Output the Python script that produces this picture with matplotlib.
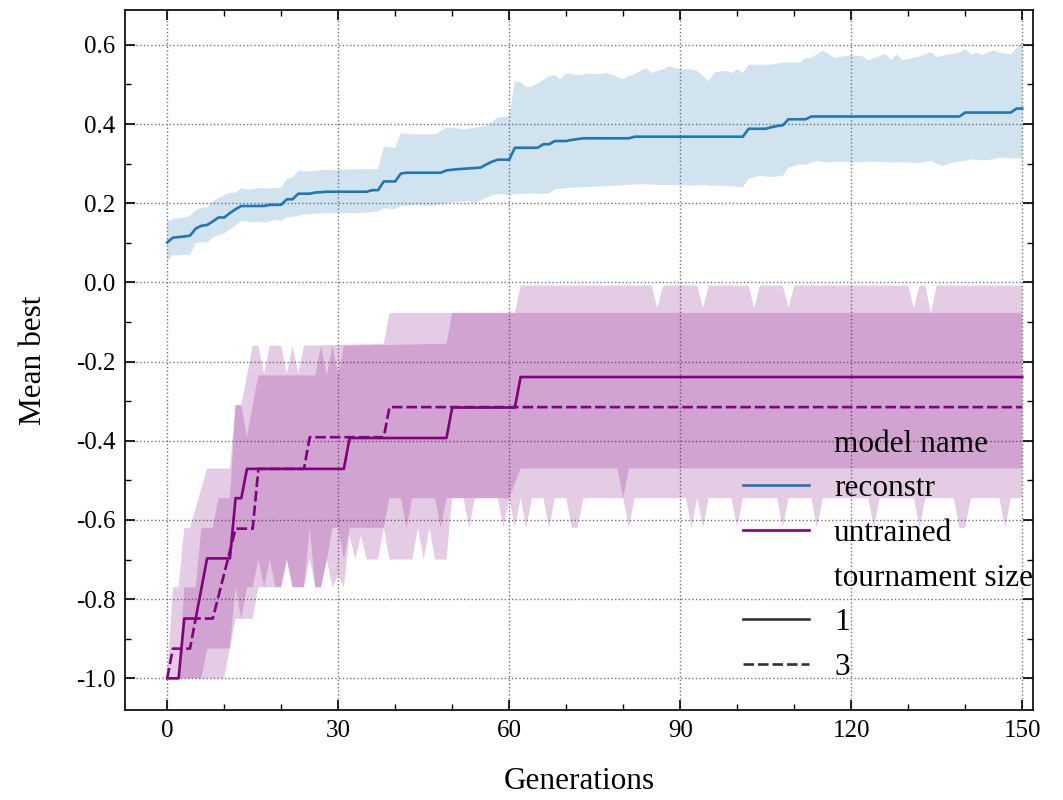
import numpy as np
import matplotlib
matplotlib.use('Agg')
import matplotlib.pyplot as plt
from matplotlib.lines import Line2D
from matplotlib.ticker import MultipleLocator

plt.rcParams['font.family'] = 'serif'
plt.rcParams['font.serif'] = ['Liberation Serif', 'DejaVu Serif']
plt.rcParams['axes.unicode_minus'] = False

'''
Data read off the figure (vertices of the mean curves and of the CI bands)
'''
# reconstr, tournament size 1
recon_x = [0, 1, 3, 4, 5, 6, 7, 8, 9, 10, 11, 12, 13, 17, 18, 20, 21, 22, 23, 25, 26, 28, 35, 36, 37, 38,
           40, 41, 42, 48, 49, 51, 53, 55, 56, 57, 58, 60, 61, 65, 66, 67, 68, 70, 71, 72, 73, 81, 82,
           101, 102, 105, 106, 107, 108, 109, 112, 113, 139, 140, 148, 149, 150]
recon_y = [0.101, 0.113, 0.116, 0.118, 0.136, 0.143, 0.145, 0.154, 0.164, 0.164, 0.175, 0.185, 0.193,
           0.193, 0.196, 0.196, 0.21, 0.21, 0.224, 0.224, 0.227, 0.229, 0.229, 0.233, 0.233, 0.255,
           0.255, 0.275, 0.277, 0.277, 0.283, 0.286, 0.288, 0.29, 0.298, 0.305, 0.31, 0.31, 0.34,
           0.34, 0.349, 0.349, 0.357, 0.357, 0.36, 0.362, 0.364, 0.364, 0.368, 0.368, 0.388, 0.388,
           0.392, 0.395, 0.397, 0.412, 0.412, 0.419, 0.419, 0.429, 0.429, 0.439, 0.439]

recon_hi_x = [0, 1, 3, 4, 5, 6, 7, 8, 9, 11, 12, 13, 14, 15, 16, 17, 18, 20, 21, 22, 23, 25, 27, 30, 33,
              37, 38, 40, 41, 42, 43, 47, 48, 49, 50, 52, 54, 56, 58, 60, 61, 62, 63, 64, 65, 67, 68,
              69, 70, 72, 74, 76, 77, 78, 80, 81, 82, 84, 85, 86, 87, 88, 90, 92, 93, 95, 96, 98, 99,
              100, 101, 102, 106, 108, 110, 111, 112, 113, 115, 117, 120, 122, 123, 126, 127, 128,
              129, 132, 134, 135, 137, 139, 140, 141, 142, 143, 145, 146, 148, 149, 150]
recon_hi_y = [0.154, 0.16, 0.164, 0.168, 0.182, 0.189, 0.189, 0.205, 0.213, 0.227, 0.227, 0.238, 0.235,
              0.235, 0.239, 0.237, 0.238, 0.239, 0.261, 0.265, 0.282, 0.28, 0.283, 0.284, 0.286, 0.286,
              0.343, 0.34, 0.376, 0.376, 0.374, 0.374, 0.382, 0.391, 0.391, 0.387, 0.391, 0.395, 0.416,
              0.42, 0.508, 0.506, 0.493, 0.495, 0.502, 0.521, 0.524, 0.513, 0.528, 0.523, 0.527, 0.526,
              0.529, 0.525, 0.513, 0.521, 0.525, 0.542, 0.529, 0.534, 0.538, 0.546, 0.538, 0.538, 0.534,
              0.508, 0.53, 0.535, 0.529, 0.538, 0.529, 0.55, 0.55, 0.555, 0.556, 0.555, 0.567, 0.567,
              0.586, 0.567, 0.574, 0.571, 0.561, 0.577, 0.561, 0.576, 0.561, 0.571, 0.582, 0.569, 0.576,
              0.58, 0.59, 0.576, 0.58, 0.574, 0.586, 0.58, 0.576, 0.592, 0.609]

recon_lo_x = [0, 1, 4, 5, 6, 7, 8, 10, 12, 13, 14, 15, 16, 17, 19, 20, 21, 23, 24, 25, 26, 30, 33, 35,
              37, 38, 40, 41, 44, 46, 48, 50, 53, 54, 55, 57, 58, 60, 62, 63, 64, 65, 67, 68, 70, 72,
              74, 76, 78, 83, 87, 90, 92, 94, 95, 98, 101, 102, 104, 106, 108, 109, 111, 112, 114, 116,
              118, 120, 124, 127, 130, 132, 134, 136, 138, 140, 141, 143, 145, 146, 148, 150]
recon_lo_y = [0.053, 0.068, 0.07, 0.098, 0.101, 0.101, 0.113, 0.124, 0.143, 0.155, 0.154, 0.151, 0.154,
              0.151, 0.158, 0.155, 0.164, 0.168, 0.172, 0.172, 0.174, 0.175, 0.175, 0.176, 0.179, 0.187,
              0.185, 0.193, 0.195, 0.193, 0.197, 0.202, 0.206, 0.199, 0.208, 0.22, 0.223, 0.221, 0.224,
              0.223, 0.225, 0.223, 0.225, 0.235, 0.238, 0.24, 0.241, 0.242, 0.244, 0.248, 0.246, 0.246,
              0.244, 0.246, 0.244, 0.244, 0.24, 0.261, 0.269, 0.266, 0.269, 0.29, 0.298, 0.297, 0.307,
              0.303, 0.305, 0.303, 0.305, 0.303, 0.303, 0.301, 0.307, 0.294, 0.303, 0.307, 0.311, 0.308,
              0.311, 0.315, 0.313, 0.313]

# untrained, tournament size 1
untr1_x = [0, 2, 3, 5, 7, 11, 12, 13, 14, 31, 32, 49, 50, 61, 62, 150]
untr1_y = [-1.0, -1.0, -0.849, -0.849, -0.697, -0.697, -0.545, -0.545, -0.471, -0.471, -0.393,
           -0.393, -0.316, -0.316, -0.239, -0.239]

# untrained, tournament size 3
untr3_x = [0, 1, 4, 5, 8, 12, 15, 16, 24, 25, 38, 39, 150]
untr3_y = [-1.0, -0.925, -0.925, -0.849, -0.849, -0.622, -0.622, -0.471, -0.471, -0.391, -0.391,
           -0.315, -0.315]

# untrained bands (the two overlapping 95% CI bands)
untr3_hi_x = [0, 1, 2, 3, 4, 7, 11, 12, 13, 15, 16, 17, 18, 20, 21, 22, 23, 24, 38, 39, 61, 62, 85,
              86, 87, 93, 94, 95, 102, 103, 104, 108, 109, 110, 130, 131, 132, 133, 134, 135, 150]
untr3_hi_y = [-1.0, -0.77, -0.77, -0.62, -0.62, -0.47, -0.47, -0.31, -0.31, -0.16, -0.16, -0.23,
              -0.16, -0.16, -0.23, -0.16, -0.23, -0.16, -0.155, -0.077, -0.077, -0.008, -0.008,
              -0.065, -0.008, -0.008, -0.065, -0.008, -0.008, -0.065, -0.008, -0.008, -0.065,
              -0.008, -0.008, -0.065, -0.008, -0.008, -0.077, -0.008, -0.008]
untr3_lo_x = [0, 10, 12, 15, 16, 20, 21, 22, 24, 25, 26, 27, 28, 29, 30, 31, 32, 33, 34, 35, 37, 38,
              39, 43, 44, 45, 46, 47, 49, 50, 52, 53, 54, 58, 59, 60, 61, 62, 63, 64, 66, 67, 68,
              70, 71, 72, 73, 80, 81, 82, 91, 92, 93, 94, 95, 99, 100, 101, 107, 108, 109, 113, 114,
              115, 123, 124, 125, 131, 132, 133, 138, 139, 140, 141, 146, 147, 148, 150]
untr3_lo_y = [-1.0, -1.0, -0.85, -0.85, -0.77, -0.77, -0.70, -0.77, -0.77, -0.70, -0.77, -0.77,
              -0.70, -0.77, -0.74, -0.77, -0.64, -0.70, -0.64, -0.70, -0.70, -0.62, -0.70, -0.70,
              -0.62, -0.70, -0.62, -0.70, -0.70, -0.545, -0.545, -0.62, -0.545, -0.545, -0.62,
              -0.545, -0.62, -0.545, -0.62, -0.545, -0.545, -0.62, -0.545, -0.545, -0.62, -0.62,
              -0.545, -0.545, -0.62, -0.545, -0.545, -0.62, -0.545, -0.62, -0.545, -0.545, -0.62,
              -0.545, -0.545, -0.62, -0.545, -0.545, -0.62, -0.545, -0.545, -0.62, -0.545, -0.545,
              -0.62, -0.545, -0.545, -0.62, -0.62, -0.545, -0.545, -0.62, -0.545, -0.545]

untr1_hi_x = [2, 3, 5, 6, 8, 9, 11, 12, 13, 14, 15, 16, 26, 27, 28, 29, 30, 31, 49, 50, 150]
untr1_hi_y = [-1.0, -0.77, -0.77, -0.62, -0.62, -0.545, -0.545, -0.31, -0.31, -0.39, -0.31, -0.235,
              -0.235, -0.16, -0.235, -0.16, -0.235, -0.16, -0.155, -0.077, -0.077]
untr1_lo_x = [2, 6, 7, 11, 12, 13, 14, 15, 16, 17, 18, 19, 20, 21, 22, 24, 25, 26, 27, 28, 29, 30,
              31, 32, 38, 39, 41, 42, 43, 47, 48, 49, 60, 62, 79, 80, 81, 150]
untr1_lo_y = [-1.0, -1.0, -0.925, -0.925, -0.77, -0.85, -0.77, -0.77, -0.70, -0.77, -0.70, -0.77,
              -0.77, -0.70, -0.77, -0.77, -0.62, -0.77, -0.77, -0.70, -0.62, -0.62, -0.70, -0.62,
              -0.62, -0.545, -0.545, -0.62, -0.545, -0.545, -0.62, -0.545, -0.545, -0.47, -0.47,
              -0.545, -0.47, -0.47]

blue = '#1f77b4'
purple = '#800080'


def band(ax, xh, yh, xl, yl, color):
    px = np.concatenate([xh, xl[::-1]])
    py = np.concatenate([yh, yl[::-1]])
    ax.fill(px, py, color=color, alpha=0.2, lw=0)


fig = plt.figure(figsize=(10.63, 8.0), dpi=100)
ax = fig.add_axes([0.1176, 0.1125, 0.8542, 0.875])

band(ax, recon_hi_x, recon_hi_y, recon_lo_x, recon_lo_y, blue)
band(ax, untr3_hi_x, untr3_hi_y, untr3_lo_x, untr3_lo_y, purple)
band(ax, untr1_hi_x, untr1_hi_y, untr1_lo_x, untr1_lo_y, purple)

ax.plot(recon_x, recon_y, color=blue, lw=1.9)
ax.plot(untr1_x, untr1_y, color=purple, lw=1.9)
ax.plot(untr3_x, untr3_y, color=purple, lw=1.9, dashes=(4, 1.5))

ax.set_xlim(-7.4, 151.9)
ax.set_ylim(-1.08, 0.688)
ax.xaxis.set_major_locator(MultipleLocator(30))
ax.xaxis.set_minor_locator(MultipleLocator(10))
ax.yaxis.set_major_locator(MultipleLocator(0.2))
ax.yaxis.set_minor_locator(MultipleLocator(0.1))
ax.yaxis.set_major_formatter(plt.FormatStrFormatter('%.1f'))
ax.tick_params(which='both', direction='in', top=True, right=True, labelsize=18)
ax.tick_params(which='major', length=7, width=1.2, pad=7)
ax.tick_params(which='minor', length=4, width=1.0)
for s in ax.spines.values():
    s.set_linewidth(1.2)
ax.grid(True, which='major', linestyle=':', color='0.45', lw=1.0)
ax.set_axisbelow(True)

ax.set_xlabel('Generations', fontsize=22.5, labelpad=18)
ax.set_ylabel('Mean best', fontsize=22.5, labelpad=20)

handles = [Line2D([], [], color='none'),
           Line2D([], [], color=blue, lw=1.9),
           Line2D([], [], color=purple, lw=1.9),
           Line2D([], [], color='none'),
           Line2D([], [], color='0.2', lw=1.9),
           Line2D([], [], color='0.2', lw=1.9, dashes=(4, 1.5))]
labels = ['model name', 'reconstr', 'untrained', 'tournament size', '1', '3']
ax.legend(handles, labels, loc='lower right', bbox_to_anchor=(1.031, 0.0), frameon=False,
          fontsize=22.5, handlelength=2.1, handletextpad=0.8, labelspacing=0.5)

fig.savefig('out.png', dpi=100)
